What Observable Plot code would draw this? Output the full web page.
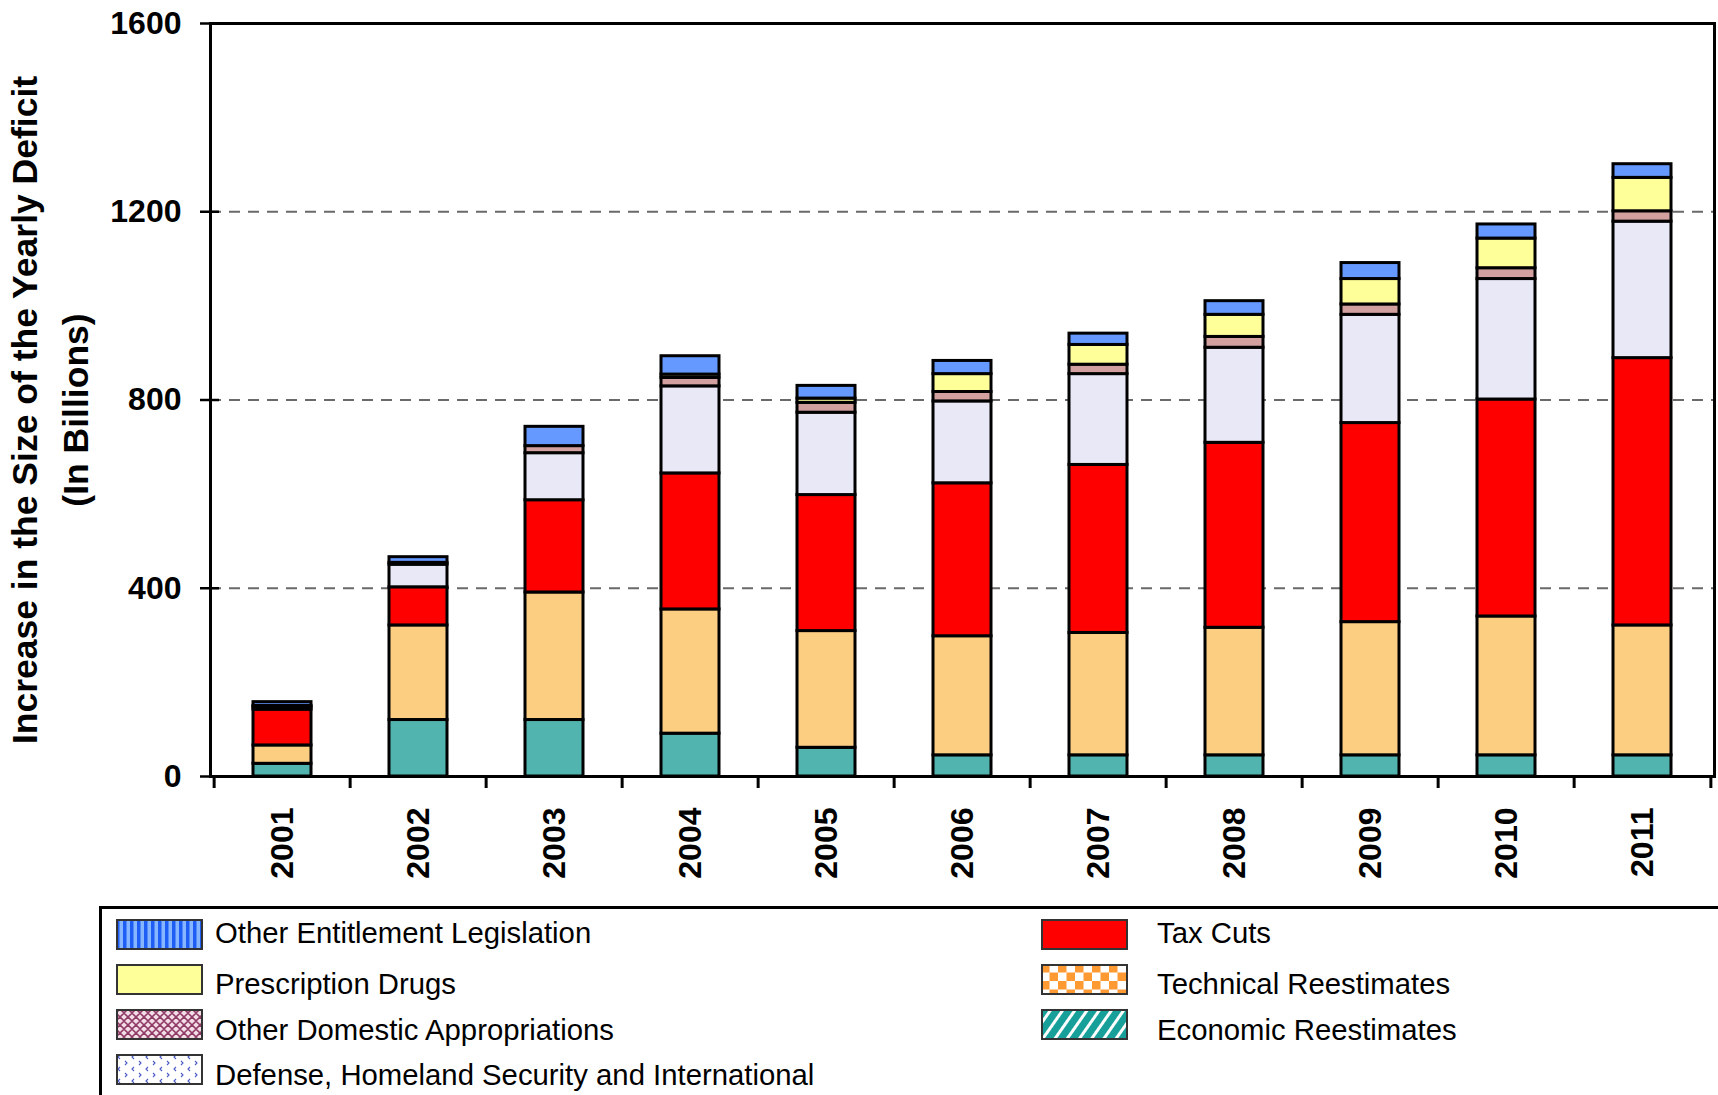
<!DOCTYPE html>
<html>
<head>
<meta charset="utf-8">
<script src="https://cdn.jsdelivr.net/npm/d3@7"></script>
<script src="https://cdn.jsdelivr.net/npm/@observablehq/plot@0.6"></script>
<style>
  html, body { margin: 0; padding: 0; background: #fff; overflow: hidden; }
  body { width: 1718px; height: 1095px; position: relative; font-family: "Liberation Sans", Arial, sans-serif; }
  #chart { position: absolute; left: 0; top: 0; }
  #legend { position: absolute; left: 99px; top: 906px; width: 1700px; height: 300px; border: 3px solid #000; box-sizing: border-box; }
  .item { position: absolute; font-size: 29.3px; color: #000; white-space: nowrap; line-height: 1; }
  .sw { position: absolute; }
</style>
</head>
<body>
<svg width="0" height="0" style="position:absolute">
  <defs>
    <pattern id="pBlue" width="7" height="10" patternUnits="userSpaceOnUse">
      <rect width="7" height="10" fill="#86b6ff"/>
      <rect width="3.5" height="10" fill="#1f5ef5"/>
    </pattern>
    <pattern id="pDom" width="8" height="8" patternUnits="userSpaceOnUse">
      <rect width="8" height="8" fill="#f3dde6"/>
      <path d="M0,4 L4,0 L8,4 L4,8 Z" fill="none" stroke="#8f3b66" stroke-width="1.6"/>
    </pattern>
    <pattern id="pDef" width="14" height="12" patternUnits="userSpaceOnUse">
      <rect width="14" height="12" fill="#ffffff"/>
      <path d="M4,1 L2,3 L4,5" fill="none" stroke="#4a5bc4" stroke-width="1.1"/>
      <path d="M9,7 L11,9 L9,11" fill="none" stroke="#4a5bc4" stroke-width="1.1"/>
    </pattern>
    <pattern id="pTech" width="17" height="17" patternUnits="userSpaceOnUse">
      <rect width="17" height="17" fill="#ffffff"/>
      <rect width="8.5" height="8.5" fill="#ff9a33"/>
      <rect x="8.5" y="8.5" width="8.5" height="8.5" fill="#ff9a33"/>
    </pattern>
    <pattern id="pEcon" width="10" height="10" patternUnits="userSpaceOnUse" patternTransform="rotate(35)">
      <rect width="10" height="10" fill="#ffffff"/>
      <rect width="7" height="10" fill="#17a099"/>
    </pattern>
  </defs>
</svg>
<div id="chart"></div>
<div id="legend"></div>
<script>
// ---- Data ----
const years = ["2001","2002","2003","2004","2005","2006","2007","2008","2009","2010","2011"];
const seriesNames = [
  "Economic Reestimates",
  "Technical Reestimates",
  "Tax Cuts",
  "Defense, Homeland Security and International",
  "Other Domestic Appropriations",
  "Prescription Drugs",
  "Other Entitlement Legislation"
];
const economic   = [27, 120, 120,  91,  61,  45,  45,  45,  45,  45,  45];
const technical  = [39, 201, 271, 264, 248, 253, 260, 271, 283, 295, 276];
const taxCuts    = [76,  81, 196, 289, 289, 325, 357, 393, 423, 461, 568];
const defense    = [ 5,  48, 100, 185, 175, 174, 193, 202, 230, 256, 290];
const domestic   = [ 3,   4,  15,  18,  21,  20,  20,  23,  22,  23,  22];
const drugs      = [ 0,   0,   0,   7,   9,  38,  42,  47,  54,  63,  71];
const entitle    = [ 8,  12,  41,  39,  27,  28,  24,  29,  34,  30,  29];
const yTicks = [0, 400, 800, 1200, 1600];
const gridValues = [400, 800, 1200];
const barColors = ["#52b4ae", "#fbce82", "#ff0000", "#e8e8f6", "#d3a0a0", "#ffff99", "#6699ff"];

const seriesValues = [economic, technical, taxCuts, defense, domestic, drugs, entitle];
const rows = [];
years.forEach((yr, i) => {
  seriesNames.forEach((s, k) => rows.push({year: yr, series: s, value: seriesValues[k][i]}));
});

// ---- Layout ----
const W = 1718, H = 900, mL = 210, mR = 4, mT = 23, mB = 124;
const step = (W - mL - mR) / years.length;
const font = "'Liberation Sans', Arial, sans-serif";

const chart = Plot.plot({
  width: W, height: H,
  marginLeft: mL, marginRight: mR, marginTop: mT, marginBottom: mB,
  style: {fontFamily: font, background: "#fff", overflow: "visible"},
  x: {domain: years, paddingInner: 0.575, paddingOuter: 0.2875, label: null},
  y: {domain: [0, 1600], label: null},
  color: {domain: seriesNames, range: barColors},
  marks: [
    Plot.ruleY(gridValues, {stroke: "#6a6a6a", strokeWidth: 2, strokeDasharray: "11,8"}),
    Plot.barY(rows, {x: "year", y: "value", fill: "series", order: seriesNames,
      stroke: "#000", strokeWidth: 3}),
    Plot.frame({stroke: "#000", strokeWidth: 3}),
    Plot.ruleY(yTicks, {stroke: "#000", strokeWidth: 2.5, insetLeft: -10, insetRight: W - mL - mR - 9}),
    Plot.ruleX(years, {x: d => d, y1: 0, y2: 0, insetBottom: -12, dx: -step / 2, stroke: "#000", strokeWidth: 3}),
    Plot.ruleX([years[years.length - 1]], {x: d => d, y1: 0, y2: 0, insetBottom: -12, dx: step / 2, stroke: "#000", strokeWidth: 3}),
    Plot.axisY({ticks: yTicks, tickSize: 0, tickPadding: 29, fontSize: 32, fontWeight: "bold", tickFormat: d => String(d), label: null}),
    Plot.axisX({tickSize: 0, tickPadding: 31, tickRotate: -90, fontSize: 32, fontWeight: "bold", label: null}),
    Plot.text(["Increase in the Size of the Yearly Deficit\n(In Billions)"], {
      frameAnchor: "left", dx: 46 - mL, dy: 10, rotate: -90, fontSize: 35.5, fontWeight: "bold",
      lineHeight: 1.43, textAnchor: "middle", lineAnchor: "middle", fill: "#000"
    })
  ]
});
document.getElementById("chart").appendChild(chart);

// ---- Legend ----
const legendItems = [
  {name: "Other Entitlement Legislation", fill: "url(#pBlue)", x: 116, y: 919, ty: 933},
  {name: "Prescription Drugs", fill: "#ffff99", x: 116, y: 964, ty: 984},
  {name: "Other Domestic Appropriations", fill: "url(#pDom)", x: 116, y: 1009, ty: 1030},
  {name: "Defense, Homeland Security and International", fill: "url(#pDef)", x: 116, y: 1054, ty: 1075},
  {name: "Tax Cuts", fill: "#ff0000", x: 1041, y: 919, ty: 933, tx: 1157},
  {name: "Technical Reestimates", fill: "url(#pTech)", x: 1041, y: 964, ty: 984, tx: 1157},
  {name: "Economic Reestimates", fill: "url(#pEcon)", x: 1041, y: 1009, ty: 1030, tx: 1157}
];
const body = document.body;
legendItems.forEach(it => {
  const sw = d3.select(body).append("svg").attr("class", "sw")
    .attr("width", 87).attr("height", 31)
    .style("left", it.x + "px").style("top", it.y + "px");
  sw.append("rect").attr("x", 1).attr("y", 1).attr("width", 85).attr("height", 29)
    .attr("fill", it.fill).attr("stroke", "#333").attr("stroke-width", 2);
  d3.select(body).append("div").attr("class", "item")
    .style("left", (it.tx || 215) + "px").style("top", (it.ty - 15) + "px")
    .text(it.name);
});
</script>
</body>
</html>
